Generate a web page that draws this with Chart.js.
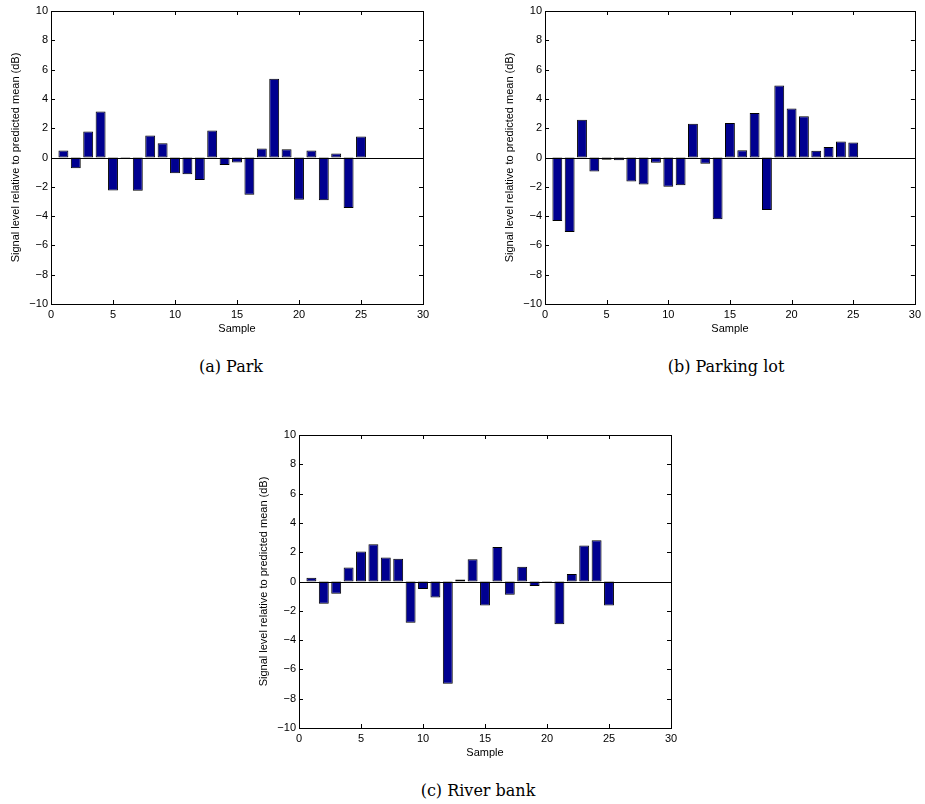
<!DOCTYPE html>
<html>
<head>
<meta charset="utf-8">
<script src="https://cdn.jsdelivr.net/npm/chart.js@4"></script>
<style>
  body { margin: 0; background: #fff; width: 925px; height: 804px; position: relative; overflow: hidden; }
  .plot { position: absolute; }
  .caption {
    position: absolute; width: 300px; text-align: center;
    font-family: "DejaVu Serif", serif; font-size: 16px; line-height: 20px; color: #000;
  }
</style>
</head>
<body>
<div class="plot" style="left:0px;top:0px;width:440px;height:340px"><canvas id="parkChart"></canvas></div>
<div class="plot" style="left:494px;top:0px;width:431px;height:340px"><canvas id="parkingChart"></canvas></div>
<div class="plot" style="left:248px;top:424px;width:440px;height:340px"><canvas id="riverChart"></canvas></div>

<div class="caption" style="left:81px;top:357px">(a) Park</div>
<div class="caption" style="left:576px;top:357px">(b) Parking lot</div>
<div class="caption" style="left:328px;top:781px">(c) River bank</div>

<script>
// sample numbers 1..25
const samples = [1, 2, 3, 4, 5, 6, 7, 8, 9, 10, 11, 12, 13, 14, 15, 16, 17, 18, 19, 20, 21, 22, 23, 24, 25];

// signal level relative to predicted mean (dB)
const parkValues = [0.48, -0.73, 1.78, 3.14, -2.25, -0.1, -2.27, 1.5, 0.98, -1.07, -1.14, -1.53, 1.85,
  -0.52, -0.34, -2.55, 0.62, 5.38, 0.57, -2.89, 0.48, -2.92, 0.27, -3.44, 1.44];
const parkingLotValues = [-4.33, -5.08, 2.57, -0.96, -0.16, -0.18, -1.64, -1.85, -0.36, -2.0, -1.89, 2.3, -0.43,
  -4.21, 2.35, 0.5, 3.03, -3.58, 4.92, 3.35, 2.82, 0.46, 0.71, 1.09, 1.03];
const riverBankValues = [0.25, -1.52, -0.84, 0.95, 2.05, 2.55, 1.64, 1.55, -2.82, -0.52, -1.09, -6.98, 0.14,
  1.52, -1.64, 2.36, -0.91, 1.0, -0.3, -0.05, -2.91, 0.52, 2.45, 2.82, -1.64];

const xTicks = [0, 5, 10, 15, 20, 25, 30];
const yTicks = [-10, -8, -6, -4, -2, 0, 2, 4, 6, 8, 10];

Chart.defaults.font.family = "'Liberation Sans', Arial, sans-serif";
Chart.defaults.color = "#000";

// box, inward ticks on all four sides and the zero baseline, like the old matlab axes
const matlabAxes = {
  id: "matlabAxes",
  afterDatasetsDraw(chart) {
    const { ctx, chartArea: a, scales } = chart;
    const tick = 4;
    ctx.save();
    ctx.strokeStyle = "#000";
    ctx.lineWidth = 1;
    ctx.beginPath();
    const y0 = Math.round(scales.y.getPixelForValue(0)) + 0.5;
    ctx.moveTo(a.left, y0);
    ctx.lineTo(a.right, y0);
    scales.x.ticks.forEach((t) => {
      const px = Math.round(scales.x.getPixelForValue(t.value)) + 0.5;
      ctx.moveTo(px, a.bottom);
      ctx.lineTo(px, a.bottom - tick);
      ctx.moveTo(px, a.top);
      ctx.lineTo(px, a.top + tick);
    });
    scales.y.ticks.forEach((t) => {
      const py = Math.round(scales.y.getPixelForValue(t.value)) + 0.5;
      ctx.moveTo(a.left, py);
      ctx.lineTo(a.left + tick, py);
      ctx.moveTo(a.right, py);
      ctx.lineTo(a.right - tick, py);
    });
    ctx.stroke();
    ctx.strokeRect(Math.round(a.left) + 0.5, Math.round(a.top) + 0.5,
      Math.round(a.right - a.left), Math.round(a.bottom - a.top));
    ctx.restore();
  },
};

const minusSign = (value) => String(value).replace("-", "\u2212");

function makeChart(canvasId, values, padRight) {
  return new Chart(document.getElementById(canvasId), {
    type: "bar",
    data: {
      datasets: [
        {
          data: samples.map((s, i) => ({ x: s, y: values[i] })),
          backgroundColor: "#000090",
          borderColor: "#000",
          borderWidth: 1,
          borderSkipped: false,
          barPercentage: 0.8,
          categoryPercentage: 1,
        },
      ],
    },
    options: {
      responsive: true,
      maintainAspectRatio: false,
      animation: false,
      layout: { padding: { left: 0, right: padRight, top: 11, bottom: 0 } },
      plugins: { legend: { display: false }, tooltip: { enabled: false } },
      scales: {
        x: {
          type: "linear",
          min: 0,
          max: 30,
          offset: false,
          afterBuildTicks: (scale) => {
            scale.ticks = xTicks.map((v) => ({ value: v }));
          },
          grid: { display: false, drawTicks: false },
          border: { display: false },
          ticks: { font: { size: 11 }, padding: 4, maxRotation: 0 },
          title: { display: true, text: "Sample", font: { size: 11 }, padding: { top: 0, bottom: 4 } },
          afterFit: (scale) => {
            scale.height = 36;
          },
        },
        y: {
          min: -10,
          max: 10,
          afterBuildTicks: (scale) => {
            scale.ticks = yTicks.map((v) => ({ value: v }));
          },
          grid: { display: false, drawTicks: false },
          border: { display: false },
          ticks: { font: { size: 11 }, padding: 3, callback: minusSign },
          title: {
            display: true,
            text: "Signal level relative to predicted mean (dB)",
            font: { size: 11 },
            padding: { top: 9, bottom: 0 },
          },
          afterFit: (scale) => {
            scale.width = 51;
          },
        },
      },
    },
    plugins: [matlabAxes],
  });
}

makeChart("parkChart", parkValues, 17);
makeChart("parkingChart", parkingLotValues, 7);
makeChart("riverChart", riverBankValues, 17);
</script>
</body>
</html>
